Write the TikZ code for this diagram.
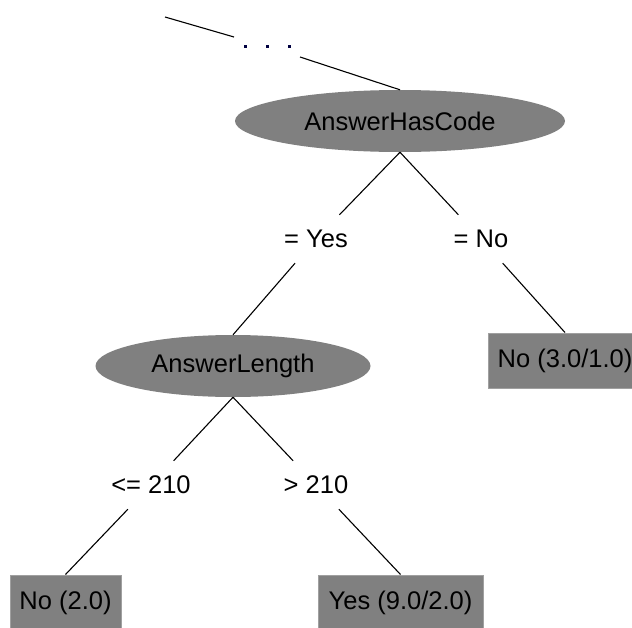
\documentclass[tikz,border=0pt]{standalone}
\usepackage{fontspec}
\setmainfont{Liberation Sans}
\usetikzlibrary{shapes.geometric}
\definecolor{nodegray}{HTML}{808080}
\definecolor{boxedge}{HTML}{A0A0A0}
\definecolor{dotblue}{HTML}{000040}
\tikzset{
  treetext/.style={font=\fontsize{25.5}{30}\selectfont, text=black},
  splitnode/.style={treetext, ellipse, fill=nodegray, draw=none, inner sep=0pt},
  leafbox/.style={treetext, rectangle, fill=nodegray, draw=boxedge, line width=1pt, inner sep=0pt, minimum height=55pt},
  edgelabel/.style={treetext, rectangle, inner sep=0pt, minimum height=48pt, minimum width=82pt},
  treeline/.style={draw=black, line width=1.1pt},
}
\begin{document}
\begin{tikzpicture}[x=1pt, y=-1pt]
\path[use as bounding box, clip] (0,0) rectangle (632,627);
\fill[white] (0,0) rectangle (632,627);

% nodes
\node[splitnode, minimum width=330pt, minimum height=62pt] (e1) at (400,121) {AnswerHasCode};
\node[splitnode, minimum width=275pt, minimum height=62pt] (e2) at (233,366) {AnswerLength};
\node[edgelabel] (yes) at (316,239) {= Yes};
\node[edgelabel] (no) at (481,239) {= No};
\node[edgelabel] (le) at (151,485) {<= 210};
\node[edgelabel] (gt) at (316,485) {> 210};
\node[leafbox, minimum width=154pt] (r1) at (565,360.5) {No (3.0/1.0)};
\node[leafbox, minimum width=111pt] (b1) at (65.5,602.5) {No (2.0)};
\node[leafbox, minimum width=165pt] (b2) at (400.5,602.5) {Yes (9.0/2.0)};

% truncated parent link
\coordinate (t0) at (165,17);
\coordinate (t1) at (234,37);
\coordinate (t2) at (300,57);
\draw[treeline] (t0) -- (t1);
\draw[treeline] (t2) -- (e1.north);
\fill[dotblue] (243.5,44.5) rectangle (246.5,47.5);
\fill[dotblue] (265.5,44.5) rectangle (268.5,47.5);
\fill[dotblue] (287.5,44.5) rectangle (290.5,47.5);

% connectors
\draw[treeline] (e1.south) -- (yes);
\draw[treeline] (e1.south) -- (no);
\draw[treeline] (yes) -- (e2.north);
\draw[treeline] (no) -- (r1.north);
\draw[treeline] (e2.south) -- (le);
\draw[treeline] (e2.south) -- (gt);
\draw[treeline] (le) -- (b1.north);
\draw[treeline] (gt) -- (b2.north);
\end{tikzpicture}
\end{document}
